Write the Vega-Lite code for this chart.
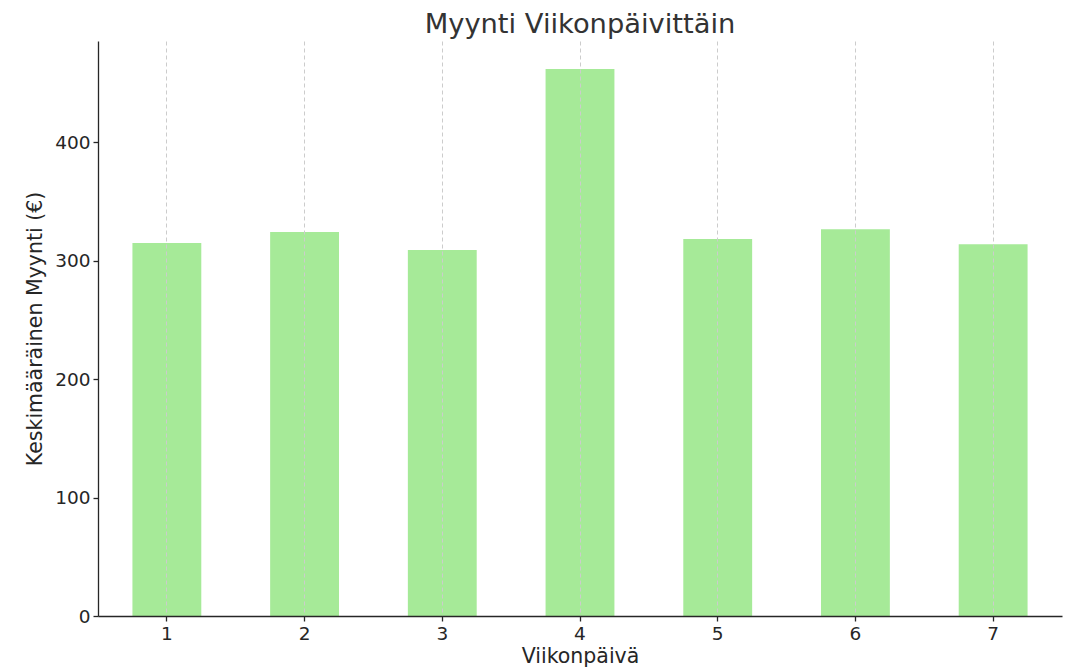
{
  "$schema": "https://vega.github.io/schema/vega-lite/v6.json",
  "width": 964,
  "height": 575,
  "autosize": {"type": "none"},
  "padding": {"left": 98, "top": 41, "right": 9, "bottom": 55},
  "background": "white",
  "title": {"text": "Myynti Viikonpäivittäin", "font": "DejaVu Sans", "fontSize": 27.3, "fontWeight": "normal", "color": "#333333", "anchor": "middle", "offset": 3},
  "data": {"values": [
    {"paiva": 1, "myynti": 315},
    {"paiva": 2, "myynti": 324.3},
    {"paiva": 3, "myynti": 309},
    {"paiva": 4, "myynti": 462},
    {"paiva": 5, "myynti": 318.3},
    {"paiva": 6, "myynti": 326.7},
    {"paiva": 7, "myynti": 314}
  ]},
  "config": {"view": {"stroke": null}},
  "mark": {"type": "bar", "color": "#a6ea98"},
  "encoding": {
    "x": {"field": "paiva", "type": "ordinal", "title": "Viikonpäivä",
      "scale": {"paddingInner": 0.5, "paddingOuter": 0.25},
      "axis": {"labelAngle": 0, "labelFont": "DejaVu Sans", "labelFontSize": 18.5, "labelColor": "#262626", "titleFont": "DejaVu Sans", "titleFontSize": 20.5, "titleFontWeight": "normal", "titleColor": "#262626", "titlePadding": 4, "domainColor": "#262626", "domainWidth": 1.3, "tickColor": "#262626", "tickSize": 5, "tickWidth": 1.3, "labelPadding": 3, "grid": true, "gridColor": "#cccccc", "gridDash": [4, 3], "gridWidth": 1, "zindex": 1}},
    "y": {"field": "myynti", "type": "quantitative", "title": "Keskimääräinen Myynti (€)",
      "scale": {"domain": [0, 485.6], "nice": false},
      "axis": {"values": [0, 100, 200, 300, 400], "grid": false, "labelFont": "DejaVu Sans", "labelFontSize": 18.5, "labelColor": "#262626", "titleFont": "DejaVu Sans", "titleFontSize": 20.5, "titleFontWeight": "normal", "titleColor": "#262626", "titlePadding": 9, "domainColor": "#262626", "domainWidth": 1.3, "tickColor": "#262626", "tickSize": 5, "tickWidth": 1.3, "labelPadding": 3}}
  }
}
